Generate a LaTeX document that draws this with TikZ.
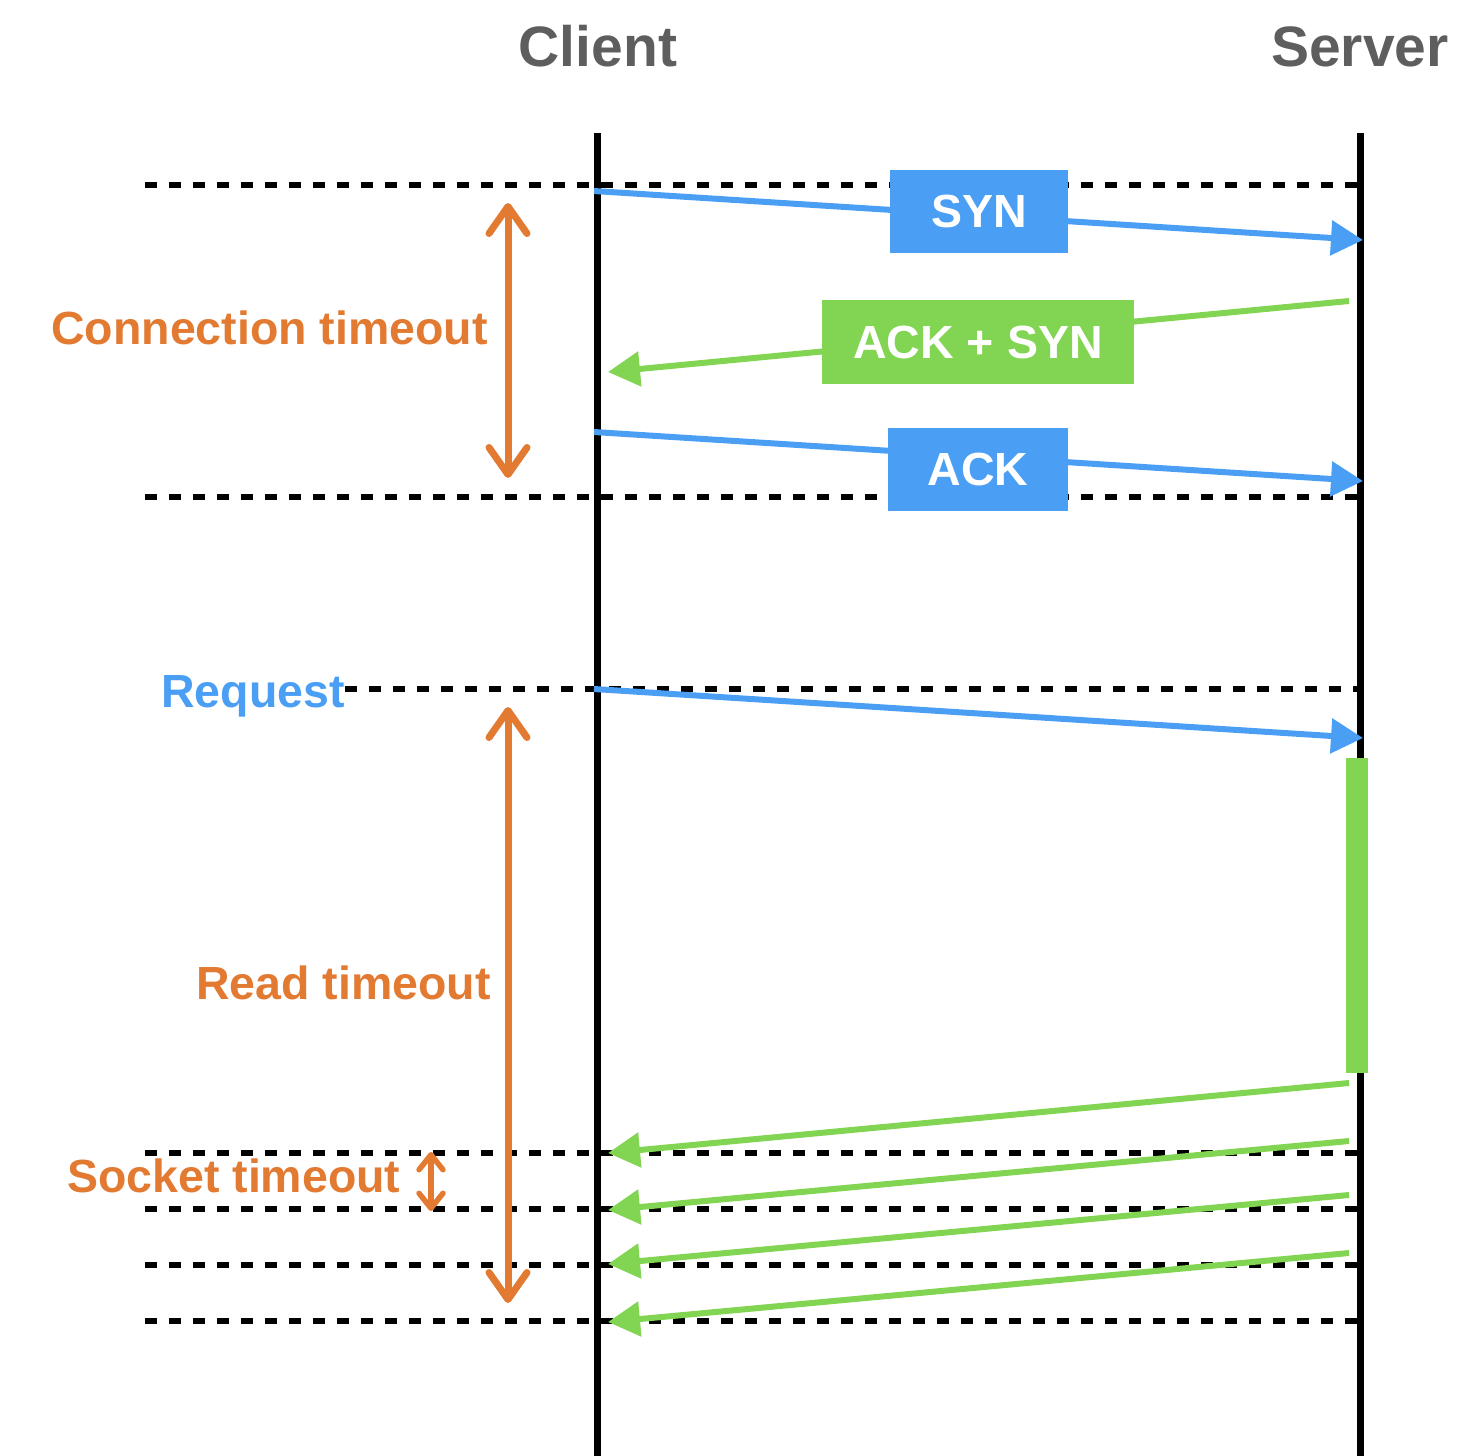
\documentclass[tikz,border=0pt]{standalone}
\usepackage{fontspec}
\setmainfont{Liberation Sans}
\usetikzlibrary{arrows.meta}
\definecolor{cblue}{HTML}{4A9FF5}
\definecolor{cgreen}{HTML}{82D553}
\definecolor{corange}{HTML}{E27A32}
\definecolor{cgray}{HTML}{5E5E5E}
\begin{document}
\begin{tikzpicture}[x=1pt,y=-1pt,
  lifeline/.style={line width=7pt,black},
  sepline/.style={line width=6pt,black,dash pattern=on 12pt off 12pt},
  msgblue/.style={line width=6pt,cblue,-{Triangle[length=32pt,width=34pt]}},
  msggreen/.style={line width=6pt,cgreen,-{Triangle[length=32pt,width=34pt]}},
  spanarrow/.style={line width=7pt,corange,{Straight Barb[length=27pt,width=38pt,round]}-{Straight Barb[length=27pt,width=38pt,round]}},
  smallspan/.style={line width=5.5pt,corange,{Straight Barb[length=15pt,width=24pt,round]}-{Straight Barb[length=15pt,width=24pt,round]}},
  lbl/.style={font=\fontsize{46.5}{56}\selectfont\bfseries, inner sep=0pt},
  title/.style={font=\fontsize{57}{68}\selectfont\bfseries, inner sep=0pt, text=cgray, anchor=base},
  boxblue/.style={lbl, fill=cblue, text=white, minimum height=83pt},
  boxgreen/.style={lbl, fill=cgreen, text=white, minimum height=84pt},
  olabel/.style={lbl, text=corange, anchor=base west},
]
\useasboundingbox (0,0) rectangle (1460,1456);

% titles
\node[title] (client) at (598,66) {Client};
\node[title] (server) at (1360,66) {Server};

% coordinates
\coordinate (ctop) at (597,133);
\coordinate (cbot) at (597,1456);
\coordinate (stop) at (1360,133);
\coordinate (sbot) at (1360,1456);

% separator lines
\foreach \y/\n in {185/a,497/b,1153/d,1209/e,1265/f,1321/g}{
  \coordinate (l\n) at (145,\y);
  \coordinate (r\n) at (1360,\y);
  \draw[sepline] (l\n) -- (r\n);
}
\coordinate (lc) at (345,689);
\coordinate (rc) at (1360,689);
\draw[sepline] (lc) -- (rc);

% lifelines
\draw[lifeline] (ctop) -- (cbot);
\draw[lifeline] (stop) -- (sbot);

% processing bar
\fill[cgreen] (1346,758) rectangle (1368,1073);

% handshake messages
\coordinate (syn1) at (594,191);
\coordinate (syn2) at (1363,240);
\draw[msgblue] (syn1) -- (syn2);
\coordinate (as1) at (1349,301);
\coordinate (as2) at (608,372);
\draw[msggreen] (as1) -- (as2);
\coordinate (ack1) at (594,432);
\coordinate (ack2) at (1363,481);
\draw[msgblue] (ack1) -- (ack2);

\node[boxblue, minimum width=178pt] (synbox) at (979,211.5) {SYN};
\node[boxgreen, minimum width=312pt] (asbox) at (978,342) {ACK + SYN};
\node[boxblue, minimum width=180pt] (ackbox) at (978,469.5) {ACK};

% request
\coordinate (rq1) at (594,689);
\coordinate (rq2) at (1363,738);
\draw[msgblue] (rq1) -- (rq2);

% responses
\foreach \a/\b/\n in {1083/1153/1,1141/1210/2,1195/1264/3,1253/1322/4}{
  \coordinate (rs\n) at (1349,\a);
  \coordinate (rt\n) at (608,\b);
  \draw[msggreen] (rs\n) -- (rt\n);
}

% timeouts
\coordinate (ct1) at (508,203);
\coordinate (ct2) at (508,478);
\draw[spanarrow] (ct1) -- (ct2);
\coordinate (rt1x) at (508,707);
\coordinate (rt2x) at (508,1303);
\draw[spanarrow] (rt1x) -- (rt2x);
\coordinate (st1) at (431,1152);
\coordinate (st2) at (431,1211);
\draw[smallspan] (st1) -- (st2);

% labels
\node[olabel] (conn) at (51,344) {Connection timeout};
\node[olabel] (read) at (196,999) {Read timeout};
\node[olabel] (sock) at (67,1192) {Socket timeout};
\node[lbl, text=cblue, anchor=base west] (req) at (161,707) {Request};
\end{tikzpicture}
\end{document}
